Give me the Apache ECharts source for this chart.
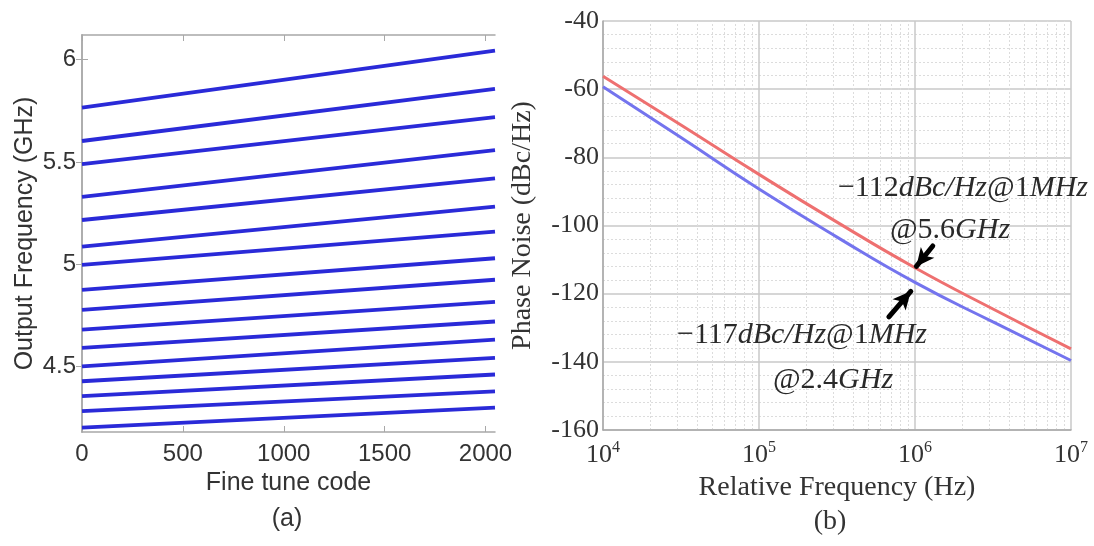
<!DOCTYPE html>
<html>
<head>
<meta charset="utf-8">
<script src="https://cdn.jsdelivr.net/npm/echarts@6/dist/echarts.min.js"></script>
<style>
html,body{margin:0;padding:0;background:#fff;}
#chart{width:1094px;height:546px;}
</style>
</head>
<body>
<div id="chart"></div>
<script>
// ---------- Data: (a) fine tuning curves ----------
const fineCode = [0, 2047];
const bandStart = [5.765, 5.602, 5.489, 5.329, 5.216, 5.086, 4.997, 4.875, 4.777, 4.680, 4.591, 4.501, 4.428, 4.355, 4.282, 4.201];
const bandEnd   = [6.044, 5.857, 5.719, 5.557, 5.419, 5.281, 5.159, 5.029, 4.924, 4.816, 4.720, 4.631, 4.542, 4.461, 4.379, 4.299];
const codeTicks = [0, 500, 1000, 1500, 2000];
const freqTicks = [4.5, 5, 5.5, 6];

// ---------- Data: (b) phase noise ----------
const relFreq = [1e4, 3.162e4, 1e5, 3.162e5, 1e6, 3.162e6, 1e7];
const pn56 = [-56.2, -70.5, -85.0, -99.0, -112.4, -124.5, -136.2];
const pn24 = [-59.3, -74.2, -89.3, -103.4, -116.7, -128.3, -139.6];
const minorFreqs = [2e4,3e4,4e4,5e4,6e4,7e4,8e4,9e4, 2e5,3e5,4e5,5e5,6e5,7e5,8e5,9e5, 2e6,3e6,4e6,5e6,6e6,7e6,8e6,9e6];

const chart = echarts.init(document.getElementById('chart'));

const sans = 'Liberation Sans';
const serif = 'Liberation Serif';
const boxColor = '#a8a8a8';

const series = [];
bandStart.forEach((s, i) => {
  series.push({
    type: 'line', xAxisIndex: 0, yAxisIndex: 0,
    data: [[fineCode[0], s], [fineCode[1], bandEnd[i]]],
    symbol: 'none', silent: true,
    lineStyle: { color: '#2a2ad8', width: 3.8 }
  });
});

// minor vertical dotted grid for log axis (drawn first, lowest z)
series.push({
  type: 'line', xAxisIndex: 2, yAxisIndex: 2, data: [], silent: true, z: 0,
  markLine: {
    silent: true, symbol: 'none', label: { show: false }, animation: false, z: 0,
    lineStyle: { color: '#dcdcdc', width: 1, type: [2, 2] },
    data: minorFreqs.map(f => ({ xAxis: f }))
  }
});

series.push({
  type: 'line', xAxisIndex: 2, yAxisIndex: 2,
  data: relFreq.map((f, i) => [f, pn56[i]]),
  symbol: 'none', smooth: true, silent: true,
  lineStyle: { color: '#ee7070', width: 3 },
  markLine: {
    silent: true, symbol: ['none', 'arrow'], symbolSize: [13, 18], z: 8,
    label: { show: false },
    lineStyle: { color: '#000', width: 5, type: 'solid', cap: 'round' },
    data: [[{ coord: [1.3e6, -106.0] }, { coord: [1.02e6, -112.0] }]],
    animation: false
  },
  z: 3
});
series.push({
  type: 'line', xAxisIndex: 2, yAxisIndex: 2,
  data: relFreq.map((f, i) => [f, pn24[i]]),
  symbol: 'none', smooth: true, silent: true,
  lineStyle: { color: '#7474ee', width: 3 },
  markLine: {
    silent: true, symbol: ['none', 'arrow'], symbolSize: [13, 18], z: 8,
    label: { show: false },
    lineStyle: { color: '#000', width: 5, type: 'solid', cap: 'round' },
    data: [[{ coord: [6.8e5, -126.8] }, { coord: [9.4e5, -119.3] }]],
    animation: false
  },
  z: 3
});

const option = {
  backgroundColor: '#ffffff',
  animation: false,
  grid: [
    { left: 82, top: 35, width: 413, height: 397, containLabel: false },
    { left: 603, top: 21, width: 468, height: 409, containLabel: false }
  ],
  xAxis: [
    {
      gridIndex: 0, type: 'value', min: 0, max: 2047, position: 'bottom',
      name: 'Fine tune code', nameLocation: 'middle', nameGap: 38,
      nameTextStyle: { fontFamily: sans, fontSize: 25, color: '#333' },
      axisLine: { show: true, lineStyle: { color: boxColor, width: 1.5 } },
      axisTick: { show: true, inside: true, length: 6, customValues: codeTicks, lineStyle: { color: boxColor } },
      axisLabel: { customValues: codeTicks, formatter: v => String(v), fontFamily: sans, fontSize: 24, color: '#333', margin: 10 },
      splitLine: { show: false }
    },
    {
      gridIndex: 0, type: 'value', min: 0, max: 2047, position: 'top',
      axisLine: { show: true, lineStyle: { color: boxColor, width: 1.5 } },
      axisTick: { show: true, inside: true, length: 6, customValues: codeTicks, lineStyle: { color: boxColor } },
      axisLabel: { show: false },
      splitLine: { show: false }
    },
    {
      gridIndex: 1, type: 'log', logBase: 10, min: 1e4, max: 1e7,
      name: 'Relative Frequency (Hz)', nameLocation: 'middle', nameGap: 44,
      nameTextStyle: { fontFamily: serif, fontSize: 28, color: '#333' },
      axisLine: { show: true, lineStyle: { color: boxColor, width: 1.5 } },
      axisTick: { show: false },
      axisLabel: {
        fontFamily: serif, fontSize: 26, color: '#333', margin: 10,
        formatter: v => '{b|10}{s|' + Math.round(Math.log10(v)) + '}',
        rich: {
          b: { fontFamily: serif, fontSize: 26, color: '#333' },
          s: { fontFamily: serif, fontSize: 16, color: '#333', padding: [0, 0, 14, 0] }
        }
      },
      splitLine: { show: true, lineStyle: { color: '#c8c8c8', width: 1.5 } }
    }
  ],
  yAxis: [
    {
      gridIndex: 0, type: 'value', min: 4.18, max: 6.12, position: 'left',
      name: 'Output Frequency (GHz)', nameLocation: 'middle', nameGap: 44, nameRotate: 90,
      nameTextStyle: { fontFamily: sans, fontSize: 25, color: '#333' },
      axisLine: { show: true, lineStyle: { color: boxColor, width: 1.5 } },
      axisTick: { show: true, inside: true, length: 6, customValues: freqTicks, lineStyle: { color: boxColor } },
      axisLabel: { customValues: freqTicks, fontFamily: sans, fontSize: 24, color: '#333', margin: 6 },
      splitLine: { show: false }
    },
    {
      gridIndex: 0, type: 'value', min: 4.18, max: 6.12, position: 'right',
      axisLine: { show: true, lineStyle: { color: boxColor, width: 1.5 } },
      axisTick: { show: true, inside: true, length: 6, customValues: freqTicks, lineStyle: { color: boxColor } },
      axisLabel: { show: false },
      splitLine: { show: false }
    },
    {
      gridIndex: 1, type: 'value', min: -160, max: -40, interval: 20,
      name: 'Phase Noise (dBc/Hz)', nameLocation: 'middle', nameGap: 66, nameRotate: 90,
      nameTextStyle: { fontFamily: serif, fontSize: 28, color: '#333' },
      axisLine: { show: true, lineStyle: { color: boxColor, width: 1.5 } },
      axisTick: { show: false },
      axisLabel: { fontFamily: serif, fontSize: 26, color: '#333', margin: 4 },
      splitLine: { show: true, lineStyle: { color: '#c8c8c8', width: 1.5 } },
      minorTick: { show: false, splitNumber: 5 },
      minorSplitLine: { show: true, lineStyle: { color: '#dcdcdc', width: 1, type: [2, 2] } }
    }
  ],
  series: series,
  graphic: []
};

const annRich = {
  n: { fontFamily: serif, fontSize: 30, color: '#2a2a2a' },
  i: { fontFamily: serif, fontSize: 30, fontStyle: 'italic', color: '#2a2a2a' }
};
function annText(x, y, text, align) {
  return {
    type: 'text', x: x, y: y, silent: true, z: 10,
    style: { text: text, rich: annRich, align: align, verticalAlign: 'middle', fontFamily: serif, fontSize: 30, fill: '#2a2a2a' }
  };
}
option.graphic = [
  annText(1088, 188, '{n|\u2212112}{i|dBc/Hz}{n|@1}{i|MHz}', 'right'),
  annText(950, 230, '{n|@5.6}{i|GHz}', 'center'),
  annText(802, 335, '{n|\u2212117}{i|dBc/Hz}{n|@1}{i|MHz}', 'center'),
  annText(833, 380, '{n|@2.4}{i|GHz}', 'center'),
  { type: 'text', x: 287, y: 519, silent: true,
    style: { text: '(a)', fontFamily: sans, fontSize: 25, fill: '#333', align: 'center', verticalAlign: 'middle' } },
  { type: 'text', x: 830, y: 522, silent: true,
    style: { text: '(b)', fontFamily: serif, fontSize: 28, fill: '#333', align: 'center', verticalAlign: 'middle' } }
];

chart.setOption(option);
</script>
</body>
</html>
